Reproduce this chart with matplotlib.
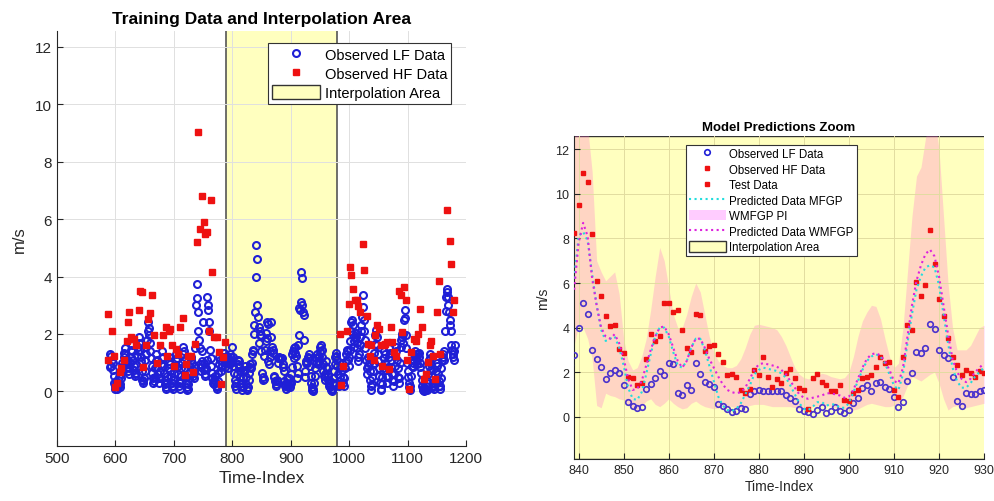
import numpy as np
import matplotlib
matplotlib.use("Agg")
import matplotlib.pyplot as plt
from matplotlib.patches import Patch
from matplotlib.lines import Line2D

plt.rcParams['font.family'] = ['Liberation Sans', 'DejaVu Sans']

# ---- observed LF data, one value per time index starting at 590 ----
lf_head = [
    0.85, 1.3, 1.25, 0.9, 1.1, 0.75, 1.0, 0.55, 0.3, 0.2,
    0.1, 0.35, 0.2, 0.1, 0.15, 0.3, 0.5, 0.25, 0.15, 0.45,
    0.6, 0.8, 1.0, 0.9, 1.2, 1.35, 1.5, 1.3, 1.1, 0.85,
    0.95, 1.1, 0.7, 0.6, 0.8, 1.0, 1.2, 1.45, 1.6, 1.4,
    1.1, 0.9, 0.75, 0.6, 0.55, 0.65, 0.95, 1.25, 1.4, 1.55,
    1.9, 1.7, 1.45, 1.2, 1.05, 0.7, 0.4, 0.3, 0.35, 0.45,
    0.7, 1.1, 1.3, 1.55, 1.8, 2.1, 2.4, 2.2, 1.95, 1.7,
    1.4, 1.15, 0.9, 0.65, 0.45, 0.3, 0.35, 0.5, 0.8, 1.05,
    1.3, 1.1, 0.85, 0.6, 0.45, 0.3, 0.45, 0.7, 0.95, 1.15,
    1.4, 1.2, 0.9, 0.65, 0.4, 0.25, 0.1, 0.15, 0.3, 0.55,
    0.8, 1.05, 1.2, 0.95, 0.7, 0.5, 0.3, 0.15, 0.1, 0.2,
    0.4, 0.65, 0.9, 1.1, 1.3, 1.15, 0.85, 0.6, 0.35, 0.2,
    0.1, 0.3, 0.55, 0.8, 1.0, 1.3, 1.55, 1.4, 1.1, 0.8,
    0.5, 0.3, 0.15, 0.05, 0.1, 0.25, 0.45, 0.7, 0.9, 1.1,
    1.2, 1.0, 0.75, 0.55, 0.45, 0.65, 0.9, 1.5, 3.0, 3.75,
    3.25, 2.75, 2.1, 1.8, 1.5, 0.95, 0.7, 0.85, 1.05, 1.4,
    2.4, 1.0, 0.75, 0.6, 0.55, 0.8, 1.1, 3.3, 3.0, 2.85,
    2.4, 2.1, 1.45, 1.15, 0.9, 0.65, 0.45, 0.3, 0.25, 0.4,
    0.55, 0.35, 0.2, 0.1, 0.15, 0.35, 0.65, 0.95, 1.2, 1.1,
    0.85, 0.7, 0.9, 1.05, 1.2, 1.35, 1.15, 1.0, 0.85, 1.0,
    1.1, 1.25, 1.0, 0.8, 0.95, 1.1, 1.3, 1.2, 1.0, 1.05,
    1.55, 1.2, 0.9, 0.65, 0.4, 0.2, 0.1, 0.3, 0.6, 0.95,
    1.1, 1.05, 0.9, 0.7, 0.5, 0.3, 0.15, 0.05, 0.2, 0.45,
    0.7, 0.9, 0.75, 0.5, 0.25, 0.1, 0.05, 0.15, 0.4, 0.65,
    0.85, 0.95, 0.8, 1.0, 1.3, 1.45, 1.4, 2.0, 2.3,
]

# zoom window 839..930
lf_zoom = [
    2.75, 4.0, 5.1, 4.6, 3.0, 2.6, 2.25, 1.7, 1.95, 2.1,
    1.95, 1.4, 0.65, 0.5, 0.4, 0.42, 1.25, 1.45, 1.75, 2.05,
    1.85, 2.4, 2.35, 1.05, 0.95, 1.4, 1.2, 2.4, 1.9, 1.55,
    1.45, 1.35, 0.55, 0.5, 0.35, 0.2, 0.25, 0.4, 0.35, 1.0,
    1.15, 1.2, 1.15, 1.15, 1.15, 1.15, 1.15, 0.95, 0.85, 0.7,
    0.35, 0.25, 0.2, 0.1, 0.3, 0.45, 0.15, 0.25, 0.45, 0.25,
    0.15, 0.3, 0.6, 0.85, 1.3, 1.4, 1.15, 1.5, 1.55, 1.35,
    1.25, 0.9, 0.45, 0.65, 1.6, 1.95, 2.9, 2.85, 3.1, 4.15,
    3.95, 3.0, 2.75, 2.65, 1.8, 0.7, 0.5, 1.05, 1.0, 1.0,
    1.15, 1.2,
]

lf_tail = [
    1.3, 1.15, 0.9, 0.55, 0.3, 0.15, 0.05, 0.0, 0.1, 0.3,
    0.55, 0.8, 1.0, 1.15, 1.3, 1.2, 0.95, 1.05, 1.25, 1.4,
    1.55, 1.6, 1.45, 1.2, 0.95, 0.7, 0.55, 0.4, 0.6, 0.85,
    1.05, 0.8, 0.55, 0.4, 0.3, 0.2, 0.35, 0.15, 0.05, 0.0,
    0.1, 0.3, 0.45, 0.7, 0.95, 1.2, 1.35, 1.25, 1.1, 0.9,
    0.6, 0.35, 0.2, 0.25, 0.5, 0.85, 1.0, 0.75, 0.5, 0.3,
    0.2, 0.45, 0.8, 1.05, 1.3, 1.45, 1.4, 1.1, 0.9, 1.2,
    1.45, 1.75, 2.1, 2.4, 2.5, 2.3, 2.0, 1.75, 1.55, 1.85,
    2.05, 1.9, 1.7, 1.5, 1.2, 1.05, 1.3, 1.6, 1.9, 2.1,
    2.3, 2.6, 3.35, 2.95, 2.5, 2.1, 1.8, 1.5, 1.1, 0.8,
    0.6, 0.9, 1.2, 1.0, 0.7, 0.4, 0.2, 0.05, 0.25, 0.5,
    0.7, 1.0, 1.35, 1.65, 1.95, 2.15, 1.9, 1.6, 1.3, 1.05,
    0.8, 0.55, 0.3, 0.1, 0.05, 0.25, 0.5, 0.8, 1.15, 1.4,
    1.3, 1.0, 0.75, 0.5, 0.3, 0.55, 0.85, 1.2, 1.5, 1.35,
    1.1, 0.85, 0.6, 0.4, 0.2, 0.35, 0.6, 0.9, 1.25, 1.55,
    1.4, 1.1, 0.8, 0.5, 0.3, 0.45, 1.0, 1.55, 1.8, 2.0,
    1.9, 1.7, 2.0, 2.5, 2.85, 2.55, 1.95, 1.5, 1.0, 0.7,
    0.5, 0.3, 0.15, 0.05, 0.2, 0.55, 0.9, 1.1, 1.0, 0.85,
    1.05, 1.25, 1.4, 1.3, 1.15, 0.95, 1.1, 1.3, 1.35, 1.2,
    1.0, 0.85, 0.65, 0.4, 0.2, 0.1, 0.05, 0.15, 0.0, 0.1,
    0.2, 0.1, 0.05, 0.3, 0.6, 0.9, 1.1, 1.3, 1.15, 0.95,
    0.75, 0.55, 0.3, 0.15, 0.1, 0.2, 0.25, 0.4, 0.7, 1.0,
    0.9, 0.6, 0.35, 0.2, 0.1, 0.2, 0.45, 0.8, 1.1, 1.3,
    1.2, 1.1, 1.4, 2.1, 2.8, 3.3, 3.45, 3.55, 3.3, 3.0,
    2.75, 2.5, 2.3, 2.1, 1.6, 1.45, 1.3, 1.2, 1.1, 1.4, 1.6,
]

# ---- observed HF data (training, outside the interpolation area) ----
hf_x = [588, 594, 587, 597, 600, 603, 607, 610, 614, 619, 621, 624, 627, 631,
        636, 640, 642, 645, 648, 653, 656, 660, 663, 666, 671, 677, 681, 686,
        688, 691, 694, 697, 700, 704, 707, 711, 716, 719, 721, 725, 729, 733,
        736, 739, 741, 744, 748, 751, 753, 757, 760, 763, 765, 768, 773, 777,
        780, 784, 787,
        984, 986, 989, 997, 999, 1001, 1003, 1007, 1010, 1013, 1016, 1019,
        1023, 1026, 1030, 1033, 1035, 1038, 1042, 1045, 1048, 1051, 1054,
        1057, 1059, 1062, 1065, 1068, 1071, 1074, 1077, 1081, 1085, 1088,
        1091, 1094, 1097, 1099, 1103, 1106, 1111, 1115, 1118, 1121, 1125,
        1128, 1132, 1135, 1138, 1141, 1143, 1147, 1151, 1154, 1156, 1168,
        1172, 1175, 1178, 1180]
hf_y = [1.08, 2.12, 2.7, 1.25, 0.15, 0.3, 0.67, 0.8, 1.08, 1.77, 2.43, 2.76,
        1.9, 1.83, 1.6, 2.82, 3.48, 3.45, 0.85, 1.6, 2.53, 2.73, 3.34, 1.95,
        0.98, 1.6, 1.95, 2.24, 1.25, 2.12, 2.18, 1.6, 0.9, 1.48, 1.31, 2.24,
        2.55, 0.56, 0.96, 1.25, 1.25, 0.67, 1.66, 5.19, 9.04, 5.66, 6.82,
        5.91, 5.48, 5.54, 2.12, 6.68, 4.15, 1.89, 1.89, 1.37, 0.27, 1.19, 1.72,
        2.0, 0.21, 0.9, 2.12, 3.05, 4.32, 4.06, 3.57, 3.17, 3.17, 2.99, 2.76,
        5.14, 4.24, 2.64, 1.66, 1.25, 1.6, 1.08, 1.95, 2.3, 2.18, 1.6,
        0.9, 1.6, 1.66, 1.72, 0.79, 2.24, 1.72, 1.37, 1.25, 3.48, 3.34,
        2.06, 3.63, 3.17, 1.08, 0.09, 1.37, 1.83, 1.77, 2.0, 2.88, 2.24,
        0.44, 0.61, 1.02, 1.6, 1.77, 1.25, 0.44, 2.76, 3.86, 1.31, 6.33,
        5.22, 4.42, 2.76, 3.17]

# ---- test data and model predictions in the zoom window ----
test_y = [
    8.25, 9.5, 10.95, 10.55, 8.2, 6.1, 5.4, 4.5, 4.05, 4.1,
    3.05, 2.85, 1.8, 1.75, 1.4, 1.5, 2.6, 3.7, 3.4, 3.6,
    5.1, 5.1, 4.7, 4.8, 3.9, 3.1, 2.9, 4.6, 4.55, 2.95,
    3.15, 3.2, 2.8, 2.45, 1.85, 1.9, 1.8, 1.2, 1.05, 1.25,
    2.1, 1.85, 2.7, 1.8, 1.35, 1.7, 1.5, 1.95, 2.15, 1.75,
    1.3, 1.2, 0.35, 1.75, 1.9, 1.55, 1.4, 1.15, 1.15, 1.4,
    0.75, 0.7, 1.05, 1.2, 1.75, 1.8, 1.85, 2.25, 2.7, 2.4,
    2.45, 1.2, 0.9, 2.7, 4.1, 3.9, 6.05, 5.4, 5.9, 8.4,
    6.85, 5.3, 4.5, 3.55, 2.7, 2.3, 1.85, 2.1, 1.95, 1.8,
    2.05, 1.95,
]
mfgp_y = [
    6.2, 8.1, 8.3, 7.9, 6.4, 5.0, 3.9, 3.4, 3.5, 3.6,
    3.1, 2.3, 1.3, 0.8, 0.75, 1.1, 1.9, 2.8, 3.6, 4.0,
    4.0, 3.6, 2.9, 2.3, 2.2, 2.5, 3.1, 3.5, 3.5, 3.0,
    2.3, 1.6, 0.9, 0.5, 0.3, 0.25, 0.35, 0.6, 1.0, 1.4,
    1.9, 2.1, 2.2, 2.15, 2.1, 2.05, 1.95, 1.75, 1.4, 1.0,
    0.6, 0.35, 0.3, 0.45, 0.65, 0.65, 0.5, 0.55, 0.55, 0.4,
    0.4, 0.6, 1.1, 1.6, 2.1, 2.5, 2.7, 2.8, 2.7, 2.4,
    1.9, 1.4, 1.2, 1.9, 3.3, 4.6, 5.7, 6.3, 6.7, 6.8,
    6.7, 5.9, 4.6, 3.3, 2.2, 1.6, 1.3, 1.3, 1.5, 1.8,
    2.0, 2.2,
]
wmfgp_y = [
    5.7, 7.8, 8.7, 8.1, 6.2, 5.0, 4.0, 3.6, 3.5, 3.7,
    3.3, 2.6, 1.7, 1.2, 1.25, 1.6, 2.3, 3.0, 3.6, 4.0,
    4.05, 3.7, 3.1, 2.5, 2.2, 2.5, 3.1, 3.5, 3.5, 3.1,
    2.6, 2.2, 1.8, 1.45, 1.2, 1.1, 1.05, 1.1, 1.3, 1.7,
    2.1, 2.35, 2.4, 2.35, 2.3, 2.25, 2.1, 1.9, 1.6, 1.3,
    1.0, 0.85, 0.8, 0.85, 0.9, 0.95, 1.05, 1.05, 1.0, 0.95,
    0.85, 0.9, 1.2, 1.7, 2.2, 2.6, 2.8, 2.85, 2.75, 2.5,
    2.1, 1.6, 1.5, 2.2, 3.6, 5.0, 6.1, 6.8, 7.3, 7.5,
    7.2, 6.3, 5.0, 3.7, 2.6, 2.0, 1.7, 1.55, 1.7, 2.0,
    2.2, 2.4,
]
pi_upper = [
    12.6, 13.5, 14.0, 13.0, 11.0, 7.0, 6.5, 6.1, 6.3, 6.5,
    5.5, 3.5, 2.5, 2.1, 2.2, 2.7, 3.5, 4.8, 6.3, 7.6,
    7.0, 5.8, 4.6, 4.0, 4.0, 4.6, 5.4, 6.0, 5.6, 4.6,
    3.6, 2.9, 2.5, 2.3, 2.2, 2.2, 2.3, 2.6, 3.1, 3.7,
    4.1, 4.15, 4.1, 4.05, 4.0, 3.9, 3.6, 3.2, 2.7, 2.2,
    1.9, 1.75, 1.7, 1.75, 1.85, 1.95, 1.9, 1.8, 1.75, 1.7,
    1.75, 2.0, 2.7, 3.6, 4.3, 4.7, 5.0, 4.95, 4.4, 3.5,
    2.7, 2.2, 2.4, 4.0, 6.5, 9.0, 10.8, 11.2, 12.5, 13.5,
    13.5, 12.0, 9.0, 6.0, 4.0, 3.0, 3.0, 3.0, 3.2, 3.6,
    4.0, 4.1,
]
pi_lower = [
    3.2, 4.1, 4.0, 3.5, 2.6, 0.5, 0.4, 1.05, 0.95, 0.9,
    0.8, 0.75, 0.55, 0.35, 0.3, 0.5, 0.7, 0.8, 0.55, 0.45,
    0.6, 0.8, 0.6, 0.45, 0.35, 0.4, 0.6, 0.7, 0.55, 0.45,
    0.4, 0.35, 0.4, 0.5, 0.5, 0.45, 0.4, 0.4, 0.45, 0.5,
    0.55, 0.55, 0.55, 0.5, 0.45, 0.45, 0.45, 0.45, 0.45, 0.4,
    0.35, 0.3, 0.35, 0.45, 0.5, 0.5, 0.5, 0.45, 0.4, 0.35,
    0.3, 0.3, 0.3, 0.35, 0.45, 0.55, 0.6, 0.55, 0.5, 0.45,
    0.45, 0.5, 0.6, 0.9, 1.4, 1.8, 1.7, 1.6, 1.75, 1.9,
    2.0, 1.5, 0.8, 0.3, 0.45, 0.5, 0.4, 0.4, 0.45, 0.5,
    0.55, 0.6,
]

interp_start, interp_end = 790, 980

lf_all = lf_head + lf_zoom + lf_tail
lf_x = np.arange(590, 590 + len(lf_all))
zx = np.arange(839, 839 + len(lf_zoom))

blue = '#1f1fd6'
red = '#ee1111'
yellow = '#ffffbf'
axcol = '#262626'


def style_axes(ax, fs):
    for s in ['top', 'right']:
        ax.spines[s].set_visible(False)
    for s in ['left', 'bottom']:
        ax.spines[s].set_color(axcol)
        ax.spines[s].set_linewidth(0.8)
    ax.tick_params(direction='in', length=4, colors=axcol, labelsize=fs, width=0.8)


fig = plt.figure(figsize=(9.95, 5.02), dpi=100)

# ---------------- left: training data ----------------
ax1 = fig.add_axes([0.0573, 0.1096, 0.411, 0.8267])
ax1.axvspan(interp_start, interp_end, facecolor=yellow, edgecolor='none', zorder=0)
ax1.axvline(interp_start, color='#555555', lw=1.2, zorder=1)
ax1.axvline(interp_end, color='#555555', lw=1.2, zorder=1)
ax1.plot(lf_x, lf_all, 'o', ls='none', mfc='none', mec=blue, mew=1.5, ms=5, zorder=3)
ax1.plot(hf_x, hf_y, 's', ls='none', color=red, ms=4, zorder=4)
ax1.set_xlim(500, 1200)
ax1.set_ylim(-1.9, 12.55)
ax1.set_xticks(range(500, 1201, 100))
ax1.set_yticks(range(0, 13, 2))
style_axes(ax1, 11)
ax1.grid(True, color='#e0e0e0', linewidth=0.7, zorder=0.5)
ax1.set_title('Training Data and Interpolation Area', fontsize=12.5,
              fontweight='bold', pad=6, color='black')
ax1.set_xlabel('Time-Index', fontsize=12.5, color=axcol, labelpad=4)
ax1.set_ylabel('m/s', fontsize=12, color=axcol, labelpad=6)

h1 = [Line2D([], [], marker='o', ls='none', mfc='none', mec=blue, mew=1.5, ms=5),
      Line2D([], [], marker='s', ls='none', color=red, ms=4),
      Patch(facecolor=yellow, edgecolor='#333333', lw=1)]
leg1 = ax1.legend(h1, ['Observed LF Data', 'Observed HF Data', 'Interpolation Area'],
                  loc='upper left', bbox_to_anchor=(0.517, 0.97), fontsize=10.5,
                  handlelength=3.3, handleheight=1.0, labelspacing=0.32,
                  borderpad=0.25, handletextpad=0.3, borderaxespad=0,
                  fancybox=False, framealpha=1)
leg1.get_frame().set_edgecolor('#333333')
leg1.get_frame().set_linewidth(0.8)

# ---------------- right: prediction zoom ----------------
ax2 = fig.add_axes([0.577, 0.0837, 0.412, 0.6434])
ax2.axvspan(interp_start, interp_end, facecolor=yellow, edgecolor='#333333', lw=1, zorder=0)
ax2.fill_between(zx, pi_lower, pi_upper, color='#ff5ad2', alpha=0.25, lw=0, zorder=1)
ax2.plot(lf_x, lf_all, 'o', ls='none', mfc='none', mec='#4a32cc', mew=1.2, ms=4, zorder=3)
ax2.plot(hf_x, hf_y, 's', ls='none', color=red, ms=3.5, zorder=4)
ax2.plot(zx, test_y, 's', ls='none', color=red, ms=3.5, zorder=4)
ax2.plot(zx, mfgp_y, ':', color='#22dddd', lw=1.5, zorder=5)
ax2.plot(zx, wmfgp_y, ':', color='#dd22dd', lw=1.5, zorder=6)
ax2.set_xlim(839, 930)
ax2.set_ylim(-1.9, 12.6)
ax2.set_xticks(range(840, 931, 10))
ax2.set_yticks(range(0, 13, 2))
style_axes(ax2, 9)
ax2.grid(True, color='#e2dca0', linewidth=0.7, zorder=0.5)
ax2.set_title('Model Predictions Zoom', fontsize=9.5, fontweight='bold', pad=4, color='black')
ax2.set_xlabel('Time-Index', fontsize=10, color=axcol, labelpad=2)
ax2.set_ylabel('m/s', fontsize=10, color=axcol, labelpad=4)

h2 = [Line2D([], [], marker='o', ls='none', mfc='none', mec=blue, mew=1.2, ms=4),
      Line2D([], [], marker='s', ls='none', color=red, ms=3.5),
      Line2D([], [], marker='s', ls='none', color=red, ms=3.5),
      Line2D([], [], ls=':', color='#22dddd', lw=1.5),
      Patch(facecolor='magenta', alpha=0.2, lw=0),
      Line2D([], [], ls=':', color='#dd22dd', lw=1.5),
      Patch(facecolor=yellow, edgecolor='#333333', lw=1)]
leg2 = ax2.legend(h2, ['Observed LF Data', 'Observed HF Data', 'Test Data',
                       'Predicted Data MFGP', 'WMFGP PI', 'Predicted Data WMFGP',
                       'Interpolation Area'],
                  loc='upper left', bbox_to_anchor=(0.273, 0.972), fontsize=8.3,
                  handlelength=3.2, handleheight=1.0, labelspacing=0.3,
                  borderpad=0.25, handletextpad=0.3, borderaxespad=0,
                  fancybox=False, framealpha=1)
leg2.get_frame().set_edgecolor('#333333')
leg2.get_frame().set_linewidth(0.8)

fig.savefig('out.png', dpi=100)
